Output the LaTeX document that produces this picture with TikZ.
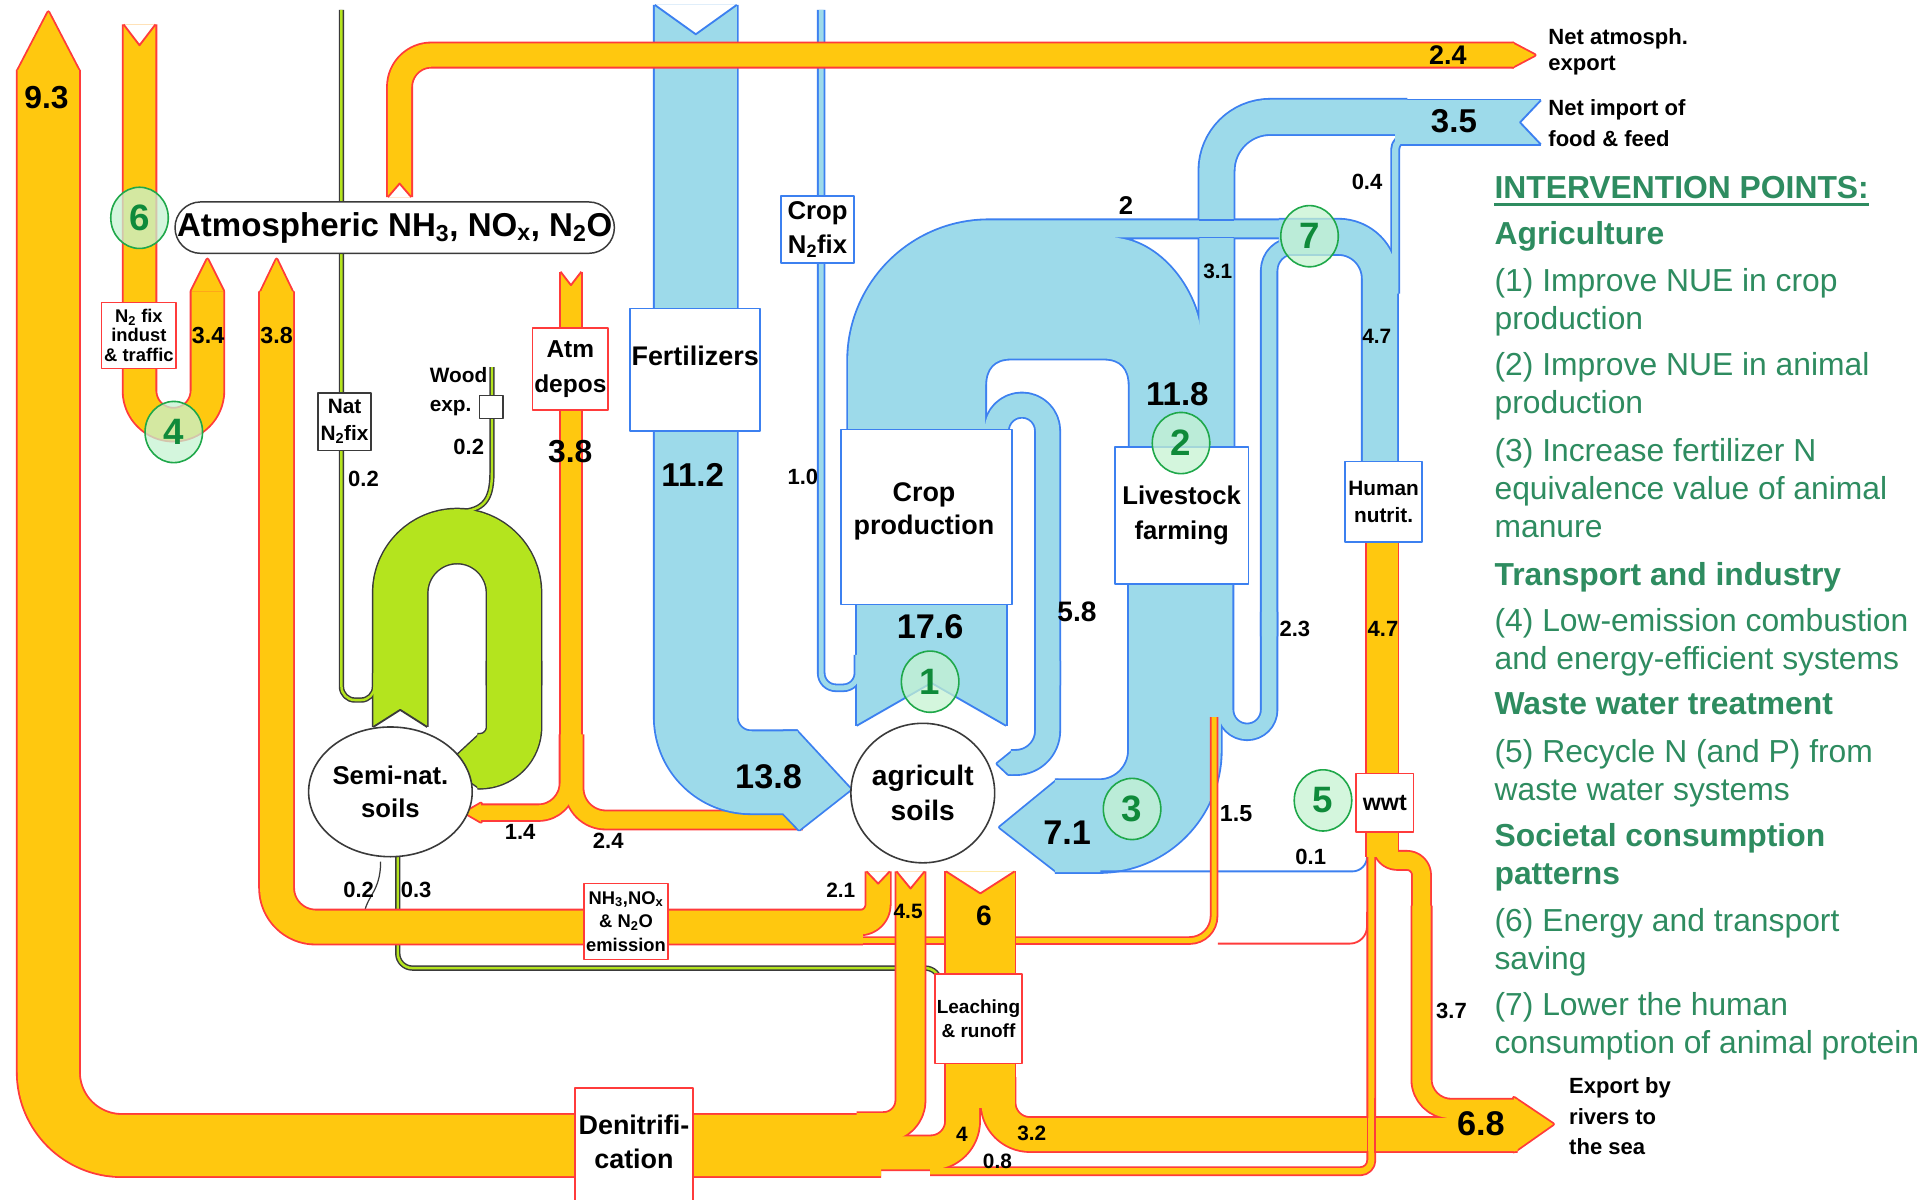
\documentclass[tikz,border=0pt]{standalone}
\usepackage{fontspec}
\setmainfont{Liberation Sans}
\usetikzlibrary{shapes.geometric}

\definecolor{oyel}{HTML}{FFC80F}
\definecolor{ored}{HTML}{FF3B3B}
\definecolor{bfl}{HTML}{9DDAEA}
\definecolor{bln}{HTML}{3C80F0}
\definecolor{gfl}{HTML}{B4E41E}
\definecolor{gln}{HTML}{3A3A3A}
\definecolor{ipgreen}{RGB}{46,140,96}
\definecolor{cfill}{HTML}{C6F3D2}
\definecolor{cline}{HTML}{1FA84A}
\definecolor{cnum}{HTML}{0F8A3A}

% swallow tail: corner, apex, corner, line colour
\newcommand{\notch}[4]{%
  \fill[white] (#1) -- (#2) -- (#3) -- cycle;
  \draw[#4, line width=1.5pt] (#1) -- (#2) -- (#3);}

% each group is drawn twice: edges first, then fills
\newcommand{\greenflows}[2]{%
  \draw[#1=2, rounded corners=11] (279,8) -- (279,572) -- (306,572) -- (306,550);
  \draw[#1=2] (378,418) .. controls (398,416) and (402,405) .. (402,385) -- (402,300);
  \draw[#1=2, rounded corners=12] (325,700) -- (325,791) -- (768,791) -- (768,805);
  \draw[#1=44, rounded corners=46.5] (327,594) -- (327,438) -- (420,438) -- (420,560);
  \draw[#1=44, rounded corners=28] (420,540) -- (420,622) -- (390,622);
  \path[#2] (392,600) -- (365,625) -- (392,644) -- cycle;}

\newcommand{\deposflows}[2]{%
  \draw[#1=17] (466.5,222) -- (466.5,625);
  \draw[#1=12, rounded corners=24] (464,600) -- (464,664) -- (392,664);
  \path[#2] (393,656.5) -- (380,664) -- (393,671.5) -- cycle;
  \draw[#1=14, rounded corners=26] (469,600) -- (469,670) -- (656,670);}

\newcommand{\agriflows}[2]{%
  \draw[#1=67, rounded corners=45] (568.5,4) -- (568.5,631) -- (652,631);
  \path[#2] (640,597.5) -- (651,597.5) -- (695,645) -- (653,678) -- (640,664.5) -- cycle;
  \draw[#1=4, rounded corners=12] (671,8) -- (671,562) -- (701,562) -- (701,535);
  \draw[#1=122] (761,494) -- (761,593);
  \path[#2] (693,352) -- (693,295) .. controls (693,231) and (745,180) .. (808,180)
    -- (1062,180) -- (1062,194) -- (906,194) .. controls (948,194) and (982,240) .. (982,282)
    -- (982,366) -- (923,366) -- (923,315) .. controls (923,301) and (916,293) .. (902,293)
    -- (826,293) .. controls (812,293) and (805,301) .. (805,315) -- (805,352) -- cycle;
  \draw[#1=19, rounded corners=21] (814,352) -- (814,331) -- (856,331) -- (856,560);
  \draw[#1=19, rounded corners=26] (856,540) -- (856,623) -- (826,623);
  \path[#2] (828,613.5) -- (815,624) -- (824,632.5) -- (828,632.5) -- cycle;
  \draw[#1=75, rounded corners=62] (960,477) -- (960,675) -- (862,675);
  \path[#2] (864,637.5) -- (817,676) -- (864,712.5) -- cycle;
  \draw[#1=12, rounded corners=18] (1001,478) -- (1001,598) -- (1037,598) -- (1037,500);
  \draw[#1=12, rounded corners=20] (1037,520) -- (1037,201) -- (1075,201);
  \draw[#1=28, rounded corners=44] (1150,95.5) -- (994,95.5) -- (994,366);
  \draw[#1=36] (1140,100) -- (1259,100);
  \draw[#1=5, rounded corners=9] (1160,113) -- (1140,113) -- (1140,240);
  \draw[#1=28, rounded corners=34] (1045,193.5) -- (1127.5,193.5) -- (1127.5,378);}

\newcommand{\emisflows}[2]{%
  \draw[#1=27, rounded corners=32] (705,757.5) -- (226,757.5) -- (226,238);
  \path[#2] (212.5,240) -- (226,212) -- (239.5,240) -- cycle;
  \draw[#1=19, rounded corners=15] (717.5,712) -- (717.5,754) -- (690,754);
  \draw[#1=4, rounded corners=20] (992,586) -- (992,768.5) -- (700,768.5);}

\newcommand{\waterflows}[2]{%
  \draw[#1=50, rounded corners=60] (720,936) -- (39.5,936) -- (39.5,57);
  \path[#2] (14.5,58) -- (39.5,10) -- (64.5,58) -- cycle;
  \draw[#1=23, rounded corners=22] (744,712) -- (744,921) -- (700,921);
  \draw[#1=56] (801,712) -- (801,905);
  \draw[#1=27, rounded corners=26] (786.5,880) -- (786.5,942) -- (700,942);
  \draw[#1=27, rounded corners=26] (815.5,880) -- (815.5,927) -- (1240,927);
  \draw[#1=25] (1129.5,443) -- (1129.5,700);
  \draw[#1=14, rounded corners=12] (1129.5,680) -- (1129.5,703) -- (1161.5,703) -- (1161.5,760);
  \draw[#1=15, rounded corners=24] (1161.5,740) -- (1161.5,906) -- (1240,906);
  \path[#2] (1237,897) -- (1269,918.5) -- (1237,941) -- cycle;
  \draw[#1=5, rounded corners=9] (1120.5,690) -- (1120.5,957) -- (760,957);}

\newcommand{\fixflows}[2]{%
  \draw[#1=26, rounded corners=27.75] (114,20) -- (114,347) -- (169.5,347) -- (169.5,238);
  \path[#2] (156.5,238) -- (169.5,212) -- (182.5,238) -- cycle;
  \draw[#1=19, rounded corners=26] (326.5,161) -- (326.5,45) -- (1237,45);
  \path[#2] (1236,35.5) -- (1254,45) -- (1236,54.5) -- cycle;}

\begin{document}
\begin{tikzpicture}[x=1pt, y=-1pt, line join=round,
  oe/.style={draw=ored, line width=#1pt+3pt}, of/.style={draw=oyel, line width=#1pt},
  ope/.style={draw=ored, line width=3pt}, opf/.style={fill=oyel},
  be/.style={draw=bln, line width=#1pt+3pt}, bf/.style={draw=bfl, line width=#1pt},
  bpe/.style={draw=bln, line width=3pt}, bpf/.style={fill=bfl},
  ge/.style={draw=gln, line width=#1pt+2.4pt}, gf/.style={draw=gfl, line width=#1pt},
  gpe/.style={draw=gln, line width=2.4pt}, gpf/.style={fill=gfl},
  txt/.style 2 args={font=\bfseries\fontsize{#1}{#2}\selectfont, inner sep=0pt},
  lbl/.style={txt={#1}{#1}},
  obox/.style={draw=ored, line width=1.3pt, fill=white, inner sep=0pt, align=center},
  bbox/.style={draw=bln, line width=1.3pt, fill=white, inner sep=0pt, align=center},
  kbox/.style={draw=gln, line width=1.2pt, fill=white, inner sep=0pt, align=center},
  soil/.style={ellipse, draw=gln, line width=1.3pt, fill=white, inner sep=0pt, align=center},
  ipc/.style={ellipse, draw=cline, line width=1.3pt, fill=cfill, fill opacity=0.75,
    text opacity=1, text=cnum, minimum width=47pt, minimum height=50pt, inner sep=0pt,
    font=\bfseries\fontsize{30}{30}\selectfont},
  ipt/.style={anchor=base west, inner sep=0pt, text=ipgreen, font=\fontsize{26}{31}\selectfont},
  iph/.style={ipt, font=\bfseries\fontsize{26}{31}\selectfont}
]
  \useasboundingbox (0,0) rectangle (1568,980);
  \fill[white] (0,0) rectangle (1568,980);

  \greenflows{ge}{gpe}
  \greenflows{gf}{gpf}
  \notch{305,594}{327,580}{349,594}{gln}
  \draw[gln, line width=1pt] (311,704) .. controls (311,728) and (300,732) .. (298,745);

  \deposflows{oe}{ope}
  \deposflows{of}{opf}
  \notch{458,222}{466.5,233}{475,222}{ored}

  \agriflows{be}{bpe}
  \agriflows{bf}{bpf}
  \notch{535,4}{568.5,28}{602,4}{bln}
  \notch{700,593}{761,558}{822,593}{bln}
  \notch{1259,82}{1242,100}{1259,118}{bln}
  \draw[bln, line width=1.5pt] (980,180) -- (1008,180) (980,194) -- (1008,194);
  \draw[bln, line width=1.5pt, rounded corners=12] (899,712) -- (1117,712) -- (1117,694);

  \emisflows{oe}{ope}
  \emisflows{of}{opf}
  \notch{708,712}{717.5,722}{727,712}{ored}
  \draw[ored, line width=1.5pt, rounded corners=14] (1117,745) -- (1117,771) -- (995,771);

  \waterflows{oe}{ope}
  \waterflows{of}{opf}
  \notch{732.5,712}{744,726}{755.5,712}{ored}
  \notch{773,712}{801,730}{829,712}{ored}
  \draw[ored, line width=1pt] (1117.5,897) -- (1117.5,942) (1123.5,897) -- (1123.5,942);

  \fixflows{oe}{ope}
  \fixflows{of}{opf}
  \notch{101,20}{114,37}{127,20}{ored}
  \notch{317,161}{326.5,150}{336,161}{ored}

  % boxes
  \node[kbox, minimum width=359pt, minimum height=42pt, rounded corners=21pt,
    font=\bfseries\fontsize{27}{30}\selectfont] (atmo) at (322.5,186)
    {Atmospheric NH\textsubscript{3}, NO\textsubscript{x}, N\textsubscript{2}O};
  \node[obox, minimum width=61pt, minimum height=54pt, txt={15}{16}] (indfix) at (113.5,274) {N\textsubscript{2} fix\\indust\\\& traffic};
  \node[kbox, minimum width=43pt, minimum height=47pt, txt={17}{22}] (natfix) at (281.5,344.5) {Nat\\N\textsubscript{2}fix};
  \node[kbox, minimum width=19pt, minimum height=19pt] (woodbox) at (401.5,332.5) {};
  \node[txt={17}{23}, align=left, anchor=west] (wood) at (351,320) {Wood\\exp.};
  \node[obox, minimum width=62pt, minimum height=67pt, txt={20}{28}] (depos) at (466,301.5) {Atm\\depos};
  \node[bbox, minimum width=106pt, minimum height=100pt] (fert) at (568,302) {};
  \node[txt={22}{26}] (fertlbl) at (568,291) {Fertilizers};
  \node[bbox, minimum width=60pt, minimum height=55pt, txt={21}{28}] (cropfix) at (668,187.5) {Crop\\N\textsubscript{2}fix};
  \node[bbox, minimum width=140pt, minimum height=143pt] (crop) at (757,422.5) {};
  \node[txt={22}{27}, align=center] (croplbl) at (755,418) {Crop\\production};
  \node[bbox, minimum width=109pt, minimum height=112pt, txt={21}{29}] (live) at (965.5,421) {Livestock\\farming};
  \node[bbox, minimum width=63pt, minimum height=66pt, txt={17}{22}] (human) at (1130.5,410) {Human\\nutrit.};
  \node[obox, minimum width=47pt, minimum height=48pt, txt={19}{19}] (wwt) at (1131.5,656) {wwt};
  \node[obox, minimum width=69pt, minimum height=62pt, txt={15}{19.5}] (emis) at (511.5,753)
    {NH\textsubscript{3},NO\textsubscript{x}\\\& N\textsubscript{2}O\\emission};
  \node[obox, minimum width=71pt, minimum height=73pt, txt={15.5}{20}] (leach) at (799.5,832.5) {Leaching\\\& runoff};
  \draw[ored, line width=1.3pt, fill=white] (470,889) rectangle (566,995);
  \node[txt={22}{27}, align=center] (denit) at (518,933) {Denitrifi-\\cation};
  \node[soil, minimum width=110pt, minimum height=114pt, txt={23}{28}] (agsoil) at (754,648) {agricult\\soils};
  \node[soil, minimum width=100pt, minimum height=106pt, txt={21}{27}] (semisoil) at (319,647) {Semi-nat.\\soils};

  % intervention points
  \node[ipc] (ip1) at (760,557) {1};
  \node[ipc] (ip2) at (965,362) {2};
  \node[ipc] (ip3) at (925,661) {3};
  \node[ipc] (ip4) at (142,353) {4};
  \node[ipc] (ip5) at (1081,654) {5};
  \node[ipc] (ip6) at (114,178) {6};
  \node[ipc] (ip7) at (1070,193) {7};

  % flow values
  \node[lbl=26] (l93) at (38,80) {9.3};
  \node[lbl=19] (l34) at (170,274) {3.4};
  \node[lbl=19] (l38a) at (226,274) {3.8};
  \node[lbl=18] (l02a) at (297,391) {0.2};
  \node[lbl=18] (l02b) at (383,365) {0.2};
  \node[lbl=26] (l38b) at (466,369) {3.8};
  \node[lbl=27] (l112) at (566,388) {11.2};
  \node[lbl=18] (l10) at (656,390) {1.0};
  \node[lbl=28] (l176) at (760,512) {17.6};
  \node[lbl=23] (l58) at (880,500) {5.8};
  \node[lbl=27] (l118) at (962,322) {11.8};
  \node[lbl=21] (l2) at (920,168) {2};
  \node[lbl=17] (l31) at (995,222) {3.1};
  \node[lbl=18] (l04) at (1117,149) {0.4};
  \node[lbl=17] (l47a) at (1125,275) {4.7};
  \node[lbl=18] (l23) at (1058,514) {2.3};
  \node[lbl=18] (l47b) at (1130,514) {4.7};
  \node[lbl=28] (l138) at (628,635) {13.8};
  \node[lbl=28] (l71) at (872,680) {7.1};
  \node[lbl=19] (l15) at (1010,665) {1.5};
  \node[lbl=18] (l01) at (1071,700) {0.1};
  \node[lbl=18] (l14) at (425,680) {1.4};
  \node[lbl=18] (l24a) at (497,687) {2.4};
  \node[lbl=18] (l02c) at (293,727) {0.2};
  \node[lbl=18] (l03) at (340,727) {0.3};
  \node[lbl=17] (l21) at (687,727) {2.1};
  \node[lbl=17] (l45) at (742,745) {4.5};
  \node[lbl=23] (l6) at (804,748) {6};
  \node[lbl=18] (l37) at (1186,826) {3.7};
  \node[lbl=17] (l4) at (786,927) {4};
  \node[lbl=17] (l32) at (843,926) {3.2};
  \node[lbl=17] (l08) at (815,949) {0.8};
  \node[lbl=28] (l68) at (1210,918) {6.8};
  \node[lbl=22] (l24b) at (1183,45) {2.4};
  \node[lbl=27] (l35) at (1188,99) {3.5};

  \node[txt={18}{21}, align=left, anchor=west] (netexp) at (1265,42.5) {Net atmosph.\\export};
  \node[txt={18}{25}, align=left, anchor=west] (netimp) at (1265,100.5) {Net import of\\food \& feed};
  \node[txt={18}{25}, align=left, anchor=west] (rivers) at (1282,912) {Export by\\rivers to\\the sea};

  % intervention list
  \node[iph] (iphead) at (1221,162) {INTERVENTION POINTS:};
  \draw[ipgreen, line width=2.5pt] ([yshift=-5pt]iphead.base west) -- ([yshift=-5pt]iphead.base east);
  \node[iph] (ipagri) at (1221,200) {Agriculture};
  \node[ipt] (ip1a) at (1221,238) {(1) Improve NUE in crop};
  \node[ipt] (ip1b) at (1221,269) {production};
  \node[ipt] (ip2a) at (1221,307) {(2) Improve NUE in animal};
  \node[ipt] (ip2b) at (1221,338) {production};
  \node[ipt] (ip3a) at (1221,377) {(3) Increase fertilizer N};
  \node[ipt] (ip3b) at (1221,408) {equivalence value of animal};
  \node[ipt] (ip3c) at (1221,439) {manure};
  \node[iph] (iptrans) at (1221,478) {Transport and industry};
  \node[ipt] (ip4a) at (1221,516) {(4) Low-emission combustion};
  \node[ipt] (ip4b) at (1221,547) {and energy-efficient systems};
  \node[iph] (ipwaste) at (1221,584) {Waste water treatment};
  \node[ipt] (ip5a) at (1221,623) {(5) Recycle N (and P) from};
  \node[ipt] (ip5b) at (1221,654) {waste water systems};
  \node[iph] (ipsoc) at (1221,692) {Societal consumption};
  \node[iph] (ipsocb) at (1221,723) {patterns};
  \node[ipt] (ip6a) at (1221,761) {(6) Energy and transport};
  \node[ipt] (ip6b) at (1221,792) {saving};
  \node[ipt] (ip7a) at (1221,830) {(7) Lower the human};
  \node[ipt] (ip7b) at (1221,861) {consumption of animal protein};
\end{tikzpicture}
\end{document}
